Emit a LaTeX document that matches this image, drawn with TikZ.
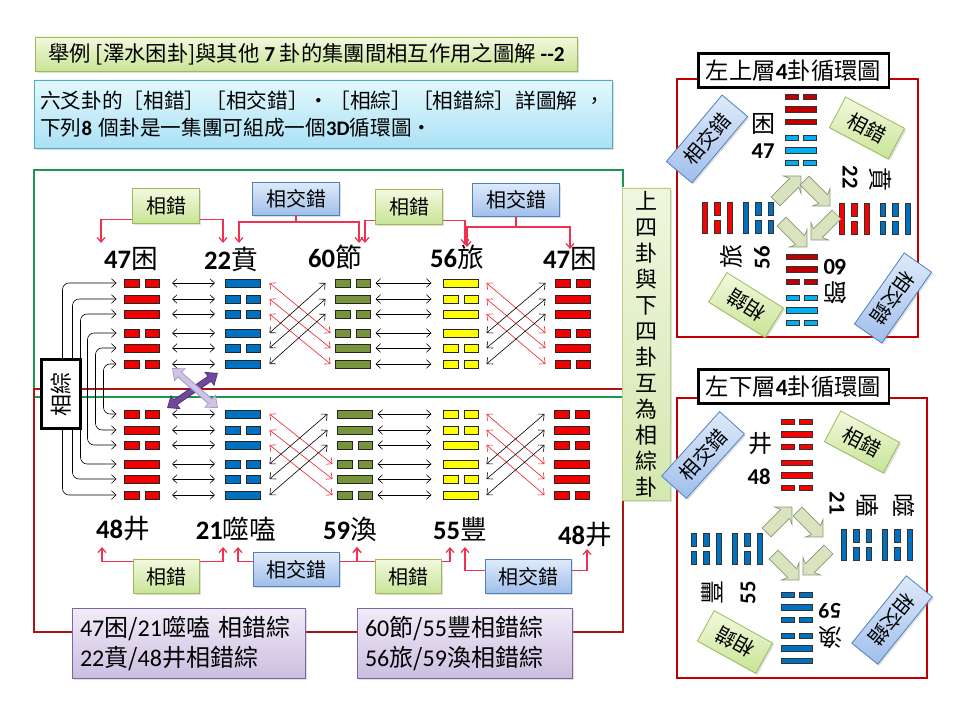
\documentclass[tikz,border=0pt]{standalone}
\usepackage{fontspec}
\setmainfont{Noto Sans CJK TC}
\newfontfamily\shuzi{Carlito}
\usetikzlibrary{arrows.meta,shapes.arrows,shadows}

\definecolor{yaored}{RGB}{240,0,0}
\definecolor{yaoblue}{RGB}{0,112,192}
\definecolor{yaogreen}{RGB}{119,147,60}
\definecolor{yaoyellow}{RGB}{255,255,0}
\definecolor{hongxian}{RGB}{235,30,40}
\definecolor{lianxian}{RGB}{240,50,80}
\definecolor{cuotop}{RGB}{242,249,222}
\definecolor{cuobot}{RGB}{200,228,150}
\definecolor{cuoedge}{RGB}{155,187,89}
\definecolor{jctop}{RGB}{222,234,250}
\definecolor{jcbot}{RGB}{160,190,235}
\definecolor{jcedge}{RGB}{79,129,189}
\definecolor{zitop}{RGB}{242,236,248}
\definecolor{zibot}{RGB}{202,190,224}
\definecolor{ziedge}{RGB}{128,100,162}
\definecolor{subtop}{RGB}{228,248,253}
\definecolor{subbot}{RGB}{170,225,245}
\definecolor{subedge}{RGB}{75,172,198}
\definecolor{shutop}{RGB}{240,246,222}
\definecolor{shubot}{RGB}{212,232,176}
\definecolor{kuanglv}{RGB}{30,150,80}
\definecolor{kuanghong}{RGB}{170,20,20}
\definecolor{panelcol}{RGB}{192,0,0}
\definecolor{cr1}{RGB}{192,0,0}
\definecolor{cb1}{RGB}{0,176,240}
\definecolor{cr2}{RGB}{250,0,0}
\definecolor{cb2}{RGB}{0,112,192}
\definecolor{cycfill}{RGB}{215,228,189}
\definecolor{cycedge}{RGB}{140,150,120}
\definecolor{zishen}{RGB}{112,72,160}
\definecolor{zidan}{RGB}{206,195,228}

\tikzset{
  yao/.style={minimum width=26.25pt, minimum height=6pt, inner sep=0pt, outer sep=0pt},
  yaoedge/.style={draw=black!85, line width=0.6pt},
  xyao/.style={draw=black!80, line width=0.4pt},
  twoway/.style={draw=black, line width=0.45pt, {Straight Barb[length=3.5pt,width=6.5pt]}-{Straight Barb[length=3.5pt,width=6.5pt]}},
  zonglink/.style={twoway, rounded corners=5pt},
  linkred/.style={draw=lianxian, line width=0.9pt, -{Straight Barb[length=3.5pt,width=6pt]}},
  softshadow/.style={drop shadow={opacity=0.25, shadow xshift=1.2pt, shadow yshift=-1.2pt}},
  cuo/.style={draw=cuoedge, line width=0.6pt, top color=cuotop, bottom color=cuobot, minimum width=50pt, minimum height=26pt, inner sep=0pt, font=\fontsize{15}{16}\selectfont, softshadow},
  jiaocuo/.style={cuo, draw=jcedge, top color=jctop, bottom color=jcbot, minimum width=65pt, minimum height=25pt},
  titlebox/.style={draw=cuoedge, line width=0.6pt, top color=cuotop, bottom color=cuobot, inner xsep=7.5pt, inner ysep=0pt, align=left, softshadow},
  zibox/.style={titlebox, draw=ziedge, top color=zitop, bottom color=zibot, inner xsep=6pt, minimum height=52.5pt, font=\fontsize{18}{22.5}\selectfont},
  shubox/.style={draw=cuoedge!70, top color=shutop, bottom color=shubot, minimum width=36pt, minimum height=234pt, inner sep=0pt, align=center, font=\fontsize{16.5}{19.5}\selectfont, softshadow},
  zongbox/.style={draw=black, line width=2.2pt, fill=white, minimum width=52pt, minimum height=29pt, inner sep=0pt, font=\fontsize{16.5}{18}\selectfont},
  panellabel/.style={draw=black, line width=2pt, fill=white, minimum width=143pt, minimum height=25.5pt, inner sep=0pt, font=\fontsize{17.5}{20}\selectfont},
  guaname/.style={inner sep=0pt, font=\fontsize{20}{22}\selectfont},
  xname/.style={inner sep=0pt, font=\fontsize{18}{19}\selectfont},
  xnum/.style={inner sep=0pt, font=\shuzi\bfseries\fontsize{17}{18}\selectfont},
  cyc/.style={single arrow, draw=cycedge, fill=cycfill, line width=0.5pt, minimum height=27pt, inner xsep=0pt, inner ysep=4.5pt, single arrow head extend=4.5pt, single arrow head indent=2pt},
}

\newcommand{\gua}[5]{%
  \foreach \yb [count=\i] in {#4} {
    \pgfmathsetmacro{\yy}{#3+{0,16,31,50,65,81}[\i-1]}
    \node[yao] (#1-\i) at (#2,\yy) {};
    \ifnum\yb=1
      \draw[yaoedge, fill=#5] (#1-\i.north west) rectangle (#1-\i.south east);
    \else
      \draw[yaoedge, fill=#5] (#1-\i.north west) rectangle ([xshift=-2.25pt]#1-\i.south);
      \draw[yaoedge, fill=#5] ([xshift=2.25pt]#1-\i.north) rectangle (#1-\i.south east);
    \fi
  }
}

\newcommand{\xgua}[4]{%
  \begin{scope}[shift={(#1,#2)}, rotate=#3]
    \foreach \yb/\yc [count=\i] in {#4} {
      \pgfmathsetmacro{\yy}{{-33,-20.5,-8,8,20.5,33}[\i-1]}
      \ifnum\yb=1
        \draw[xyao, fill=\yc] (-15.5,\yy-2.75) rectangle (15.5,\yy+2.75);
      \else
        \draw[xyao, fill=\yc] (-15.5,\yy-2.75) rectangle (-2.5,\yy+2.75);
        \draw[xyao, fill=\yc] (2.5,\yy-2.75) rectangle (15.5,\yy+2.75);
      \fi
    }
  \end{scope}
}

\begin{document}
\begin{tikzpicture}[x=0.75pt,y=-0.75pt]
\useasboundingbox (0,0) rectangle (960,720);
\fill[white] (0,0) rectangle (960,720);

\node[titlebox, minimum width=407pt, minimum height=25.5pt, font=\fontsize{16}{18}\selectfont] (biaoti) at (306.5,54) {舉例 [澤水困卦]與其他 {\shuzi\bfseries 7} 卦的集團間相互作用之圖解 {\shuzi\bfseries --2}};
\node[titlebox, draw=subedge, top color=subtop, bottom color=subbot, inner xsep=4pt, text width=425pt, minimum height=51pt, font=\fontsize{15.5}{20.5}\selectfont] (shuoming) at (323.5,114) {六爻卦的［相錯］［相交錯］‧［相綜］［相錯綜］詳圖解 ，\\下列{\shuzi\bfseries 8} 個卦是一集團可組成一個{\shuzi\bfseries 3D}循環圖‧};

\draw[draw=kuanglv, line width=1.5pt] (34,170) rectangle (623,397);
\draw[draw=kuanghong, line width=1.5pt] (34,389) rectangle (623,632);

\gua{k1}{142}{283}{0,1,1,0,1,0}{yaored}
\gua{k2}{243}{283}{1,0,0,1,0,1}{yaoblue}
\gua{k3}{353}{283}{0,1,0,0,1,1}{yaogreen}
\gua{k4}{461}{283}{1,0,1,1,0,0}{yaoyellow}
\gua{k5}{573}{283}{0,1,1,0,1,0}{yaored}
\gua{w1}{142}{414}{0,1,0,1,1,0}{yaored}
\gua{w2}{243}{414}{1,0,1,0,0,1}{yaoblue}
\gua{w3}{355}{414}{1,1,0,0,1,0}{yaogreen}
\gua{w4}{461}{414}{0,0,1,1,0,1}{yaoyellow}
\gua{w5}{572}{414}{0,1,0,1,1,0}{yaored}

\foreach \r in {k,w} {
  \foreach \i in {1,...,6} {
    \draw[twoway] ([xshift=9.4pt]\r1-\i.east) -- ([xshift=-7.9pt]\r2-\i.west);
    \draw[twoway] ([xshift=3.75pt]\r3-\i.east) -- ([xshift=-9pt]\r4-\i.west);
  }
  \foreach \i in {1,2,3} {
    \pgfmathtruncatemacro\j{\i+3}
    \draw[twoway, draw=hongxian] ([xshift=6.75pt]\r2-\i.east) -- ([xshift=-3.75pt]\r3-\j.west);
    \draw[twoway, draw=hongxian] ([xshift=6pt]\r4-\i.east) -- ([xshift=-7.5pt]\r5-\j.west);
  }
  \foreach \i in {1,2,3} {
    \pgfmathtruncatemacro\j{\i+3}
    \draw[twoway] ([xshift=6.75pt]\r2-\j.east) -- ([xshift=-7.5pt]\r3-\i.west);
    \draw[twoway] ([xshift=6pt]\r4-\j.east) -- ([xshift=-7.5pt]\r5-\i.west);
  }
}

\foreach \i/\d in {1/54,2/44,3/36,4/29,5/21,6/13} {
  \pgfmathtruncatemacro\j{7-\i}
  \draw[zonglink] ([xshift=-6pt]k1-\i.west) -- ++(-\d,0) |- ([xshift=-6pt]w1-\j.west);
}
\node[zongbox, rotate=90] (zong) at (61,394) {相綜};

\coordinate (xa1) at (167,408);
\coordinate (xa2) at (218,373);
\coordinate (xb1) at (172,368);
\coordinate (xb2) at (218,408);
\draw[line width=5pt, draw=zishen!70!black, {Triangle[length=8pt,width=12.5pt]}-{Triangle[length=8pt,width=12.5pt]}] (xa1) -- (xa2);
\draw[line width=3.6pt, draw=zishen, {Triangle[length=6.5pt,width=10pt]}-{Triangle[length=6.5pt,width=10pt]}, shorten <=0.9pt, shorten >=0.9pt] (xa1) -- (xa2);
\draw[line width=5pt, draw=zishen!60, {Triangle[length=8pt,width=12.5pt]}-{Triangle[length=8pt,width=12.5pt]}] (xb1) -- (xb2);
\draw[line width=3.6pt, draw=zidan, {Triangle[length=6.5pt,width=10pt]}-{Triangle[length=6.5pt,width=10pt]}, shorten <=0.9pt, shorten >=0.9pt] (xb1) -- (xb2);

\node[guaname] (t1) at (131,259) {{\shuzi\bfseries 47}困};
\node[guaname] (t2) at (231,259) {{\shuzi\bfseries 22}賁};
\node[guaname] (t3) at (335,257) {{\shuzi\bfseries 60}節};
\node[guaname] (t4) at (457,257) {{\shuzi\bfseries 56}旅};
\node[guaname] (t5) at (570,259) {{\shuzi\bfseries 47}困};
\node[guaname] (b1) at (123,529) {{\shuzi\bfseries 48}井};
\node[guaname] (b2) at (236,529) {{\shuzi\bfseries 21}噬嗑};
\node[guaname] (b3) at (350,529) {{\shuzi\bfseries 59}渙};
\node[guaname] (b4) at (460,529) {{\shuzi\bfseries 55}豐};
\node[guaname] (b5) at (585,535) {{\shuzi\bfseries 48}井};

\node[cuo] (cj1) at (166,206) {相錯};
\node[jiaocuo] (cx1) at (296,199) {相交錯};
\node[cuo] (cj2) at (409,207) {相錯};
\node[jiaocuo] (cx2) at (516,200) {相交錯};
\coordinate (ta1) at (101,243);
\coordinate (ta2) at (223,243);
\coordinate (ta3) at (239,243);
\coordinate (ta4) at (359,243);
\coordinate (ta5) at (365,243);
\coordinate (ta6) at (465,245);
\coordinate (ta7) at (467,247);
\coordinate (ta8) at (570,249);
\draw[linkred] ([yshift=3pt]cj1.south west) -| (ta1);
\draw[linkred] ([yshift=3pt]cj1.south east) -| (ta2);
\draw[linkred] (cx1.south) -- ++(0,6) -| (ta3);
\draw[linkred] (cx1.south) -- ++(0,6) -| (ta4);
\draw[linkred] ([yshift=3pt]cj2.south west) -| (ta5);
\draw[linkred] ([yshift=3pt]cj2.south east) -| (ta6);
\draw[linkred] (cx2.south) -- ++(0,10) -| (ta7);
\draw[linkred] (cx2.south) -- ++(0,10) -| (ta8);

\node[cuo] (cj3) at (166.5,576.5) {相錯};
\node[jiaocuo] (cx3) at (296.5,569.5) {相交錯};
\node[cuo] (cj4) at (408.5,576.5) {相錯};
\node[jiaocuo] (cx4) at (528.5,576.5) {相交錯};
\coordinate (tb1) at (102,547);
\coordinate (tb2) at (223,547);
\coordinate (tb3) at (238,547);
\coordinate (tb4) at (357,547);
\coordinate (tb5) at (450,547);
\coordinate (tb6) at (465,547);
\coordinate (tb7) at (587,549);
\draw[linkred] ([yshift=-2.25pt]cj3.north west) -| (tb1);
\draw[linkred] ([yshift=-2.25pt]cj3.north east) -| (tb2);
\draw[linkred] ([yshift=-6.75pt]cx3.north west) -| (tb3);
\draw[linkred] ([yshift=-6.75pt]cx3.north east) -| (tb4);
\draw[linkred] ([yshift=-2.25pt]cj4.north west) -| (tb4);
\draw[linkred] ([yshift=-2.25pt]cj4.north east) -| (tb5);
\draw[linkred] ([yshift=-8.25pt]cx4.north west) -| (tb6);
\draw[linkred] ([yshift=-8.25pt]cx4.north east) -| (tb7);

\node[zibox, text width=162.75pt] (zi1) at (188.5,643) {{\shuzi 47}困/{\shuzi 21}噬嗑 相錯綜\\{\shuzi 22}賁/{\shuzi 48}井相錯綜};
\node[zibox, text width=149.25pt] (zi2) at (464.5,643) {{\shuzi 60}節/{\shuzi 55}豐相錯綜\\{\shuzi 56}旅/{\shuzi 59}渙相錯綜};

\node[shubox] (shu) at (646,344) {上\\四\\卦\\與\\下\\四\\卦\\互\\為\\相\\綜\\卦};

\draw[draw=panelcol, line width=1.3pt] (677,79) rectangle (918,337);
\node[panellabel] (zs) at (793.5,70.5) {左上層{\shuzi\bfseries 4}卦循環圖};
\xgua{801}{130}{0}{0/cr1,1/cr1,1/cr1,0/cb1,1/cb1,0/cb1}
\xgua{875}{219}{-90}{1/cb2,0/cb2,0/cb2,1/cr2,0/cr2,1/cr2}
\xgua{802}{290}{180}{0/cb1,1/cb1,0/cb1,0/cr1,1/cr1,1/cr1}
\xgua{738}{218}{90}{1/cr2,0/cr2,1/cr2,1/cb2,0/cb2,0/cb2}
\node[xname] (kun) at (763,124) {困};
\node[xnum] (kunh) at (763,151) {47};
\node[xnum, rotate=-90] (benh) at (850,177) {22};
\node[xname, rotate=-90] (ben) at (881,180) {賁};
\node[xname, rotate=90] (lv) at (731,257) {旅};
\node[xnum, rotate=90] (lvh) at (762,258) {56};
\node[xnum, rotate=180] (jieh) at (835,267) {60};
\node[xname, rotate=180] (jie) at (835,293) {節};
\node[cyc, rotate=45] (q1) at (786,191) {};
\node[cyc, rotate=-45] (q2) at (815,191) {};
\node[cyc, rotate=-135] (q3) at (826,225) {};
\node[cyc, rotate=-45] (q4) at (792,232) {};
\node[jiaocuo, rotate=50] (s1) at (707,139) {相交錯};
\node[cuo, rotate=-28] (s2) at (867,128) {相錯};
\node[cuo, rotate=148] (s3) at (746,305) {相錯};
\node[jiaocuo, rotate=-125] (s4) at (893,298) {相交錯};

\draw[draw=panelcol, line width=1.3pt] (677,398) rectangle (927,678);
\node[panellabel] (zx) at (793.5,386.5) {左下層{\shuzi\bfseries 4}卦循環圖};
\xgua{797}{455}{0}{0/cr2,1/cr2,0/cr2,1/cr2,1/cr2,0/cr2}
\xgua{877}{545}{-90}{1/cb2,0/cb2,1/cb2,0/cb2,0/cb2,1/cb2}
\xgua{797}{628}{180}{1/cb2,1/cb2,0/cb2,0/cb2,1/cb2,0/cb2}
\xgua{727}{549}{90}{0/cb2,0/cb2,1/cb2,1/cb2,0/cb2,1/cb2}
\node[xname] (jing) at (760,444) {井};
\node[xnum] (jingh) at (759,477) {48};
\node[xnum, rotate=-90] (shih) at (837,503) {21};
\node[xname, rotate=-90] (he) at (868,505) {嗑};
\node[xname, rotate=-90] (shi) at (904,505) {噬};
\node[xname, rotate=90] (feng) at (712,592) {豐};
\node[xnum, rotate=90] (fengh) at (748,593) {55};
\node[xnum, rotate=180] (huanh) at (830,611) {59};
\node[xname, rotate=180] (huan) at (830,638) {渙};
\node[cyc, rotate=45] (p1) at (777,522) {};
\node[cyc, rotate=-45] (p2) at (808,522) {};
\node[cyc, rotate=-135] (p3) at (818,560) {};
\node[cyc, rotate=-45] (p4) at (784,565) {};
\node[jiaocuo, rotate=48] (r1) at (703,455) {相交錯};
\node[cuo, rotate=-28] (r2) at (862,442) {相錯};
\node[cuo, rotate=151] (r3) at (735,642) {相錯};
\node[jiaocuo, rotate=-129] (r4) at (892,620) {相交錯};
\end{tikzpicture}
\end{document}
